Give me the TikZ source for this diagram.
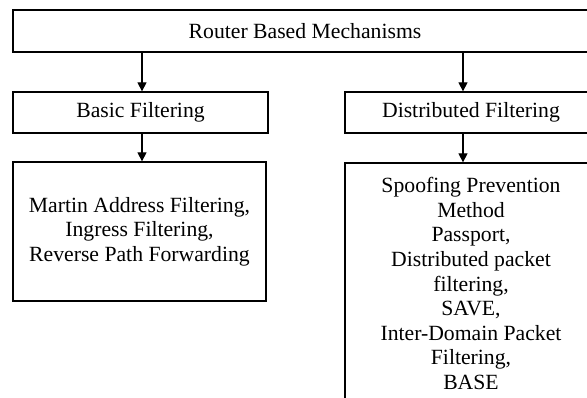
\documentclass[tikz,border=0pt]{standalone}
\usepackage{fontspec}
\setmainfont{Liberation Serif}
\usetikzlibrary{arrows.meta}
\begin{document}
\begin{tikzpicture}[x=1pt,y=1pt,
  box/.style={draw=black, line width=1.3pt, rectangle, align=center, inner sep=0pt,
    font=\fontsize{21.7}{24.6}\selectfont},
  arr/.style={line width=1.3pt, -{Triangle[width=9pt,length=9pt]}}]
\useasboundingbox[fill=white] (0,0) rectangle (587,398);
\node[box, minimum width=584pt, minimum height=42pt] (top) at (305,367) {Router Based Mechanisms};
\node[box, minimum width=255pt, minimum height=41pt] (basic) at (140.5,285.5) {Basic Filtering};
\node[box, minimum width=252pt, minimum height=41pt] (dist) at (471,285.5) {Distributed Filtering};
\node[box, minimum width=253pt, minimum height=139pt] (ll) at (139.5,166.5)
  {Martin Address Filtering,\\Ingress Filtering,\\Reverse Path Forwarding};
\node[box, minimum width=252pt, minimum height=241pt] (lr) at (471,114.5)
  {Spoofing Prevention\\Method\\Passport,\\Distributed packet\\filtering,\\SAVE,\\Inter-Domain Packet\\Filtering,\\BASE};
\draw[arr] ([xshift=1.5pt]basic.north |- top.south) -- ([xshift=1.5pt]basic.north);
\draw[arr] ([xshift=-8pt]dist.north |- top.south) -- ([xshift=-8pt]dist.north);
\draw[arr] ([xshift=1.5pt]basic.south) -- ([xshift=1.5pt]basic.south |- ll.north);
\draw[arr] ([xshift=-8pt]dist.south) -- ([xshift=-8pt]dist.south |- lr.north);
\end{tikzpicture}
\end{document}
